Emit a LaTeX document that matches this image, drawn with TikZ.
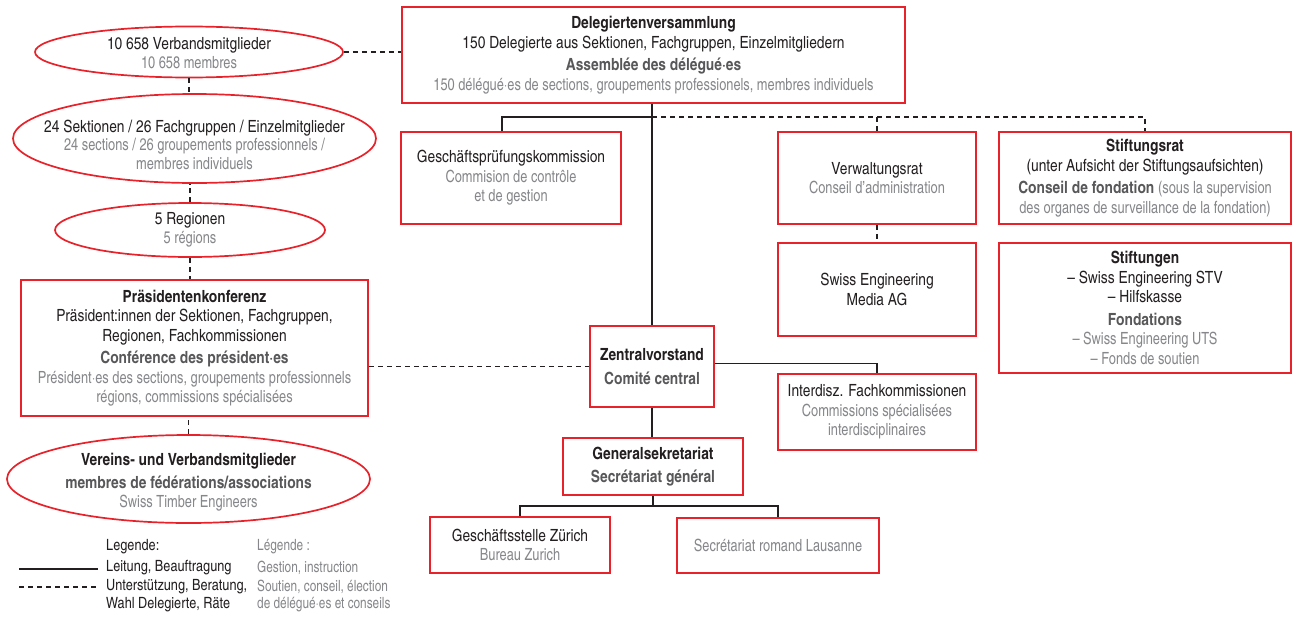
\documentclass[tikz,border=0pt]{standalone}
\usepackage{fontspec}
\setmainfont{texgyreheroscn}[Extension=.otf, UprightFont=*-regular, BoldFont=*-bold]
\newfontfamily\lightcn{texgyreheroscn}[Extension=.otf, UprightFont=*-regular, FakeStretch=0.93]
\usetikzlibrary{shapes.geometric}
\definecolor{swred}{HTML}{E8222A}
\definecolor{dark}{HTML}{231F20}
\definecolor{frbold}{HTML}{58585A}
\definecolor{frgrey}{HTML}{86878A}
\newcommand\frb[1]{{\bfseries\color{frbold}#1}}
\newcommand\frl[1]{{\lightcn\color{frgrey}#1}}
\begin{document}
\begin{tikzpicture}[x=1pt, y=-1pt]
    \tikzset{
    box/.style={
        rectangle,
        draw=swred,
        line width=1.7pt,
        align=center,
        text=dark,
        inner sep=2pt,
        font=\fontsize{16.8}{19.5}\selectfont
    },
    oval/.style={
        ellipse,
        draw=swred,
        line width=1.7pt,
        inner sep=0pt
    },
    ovaltext/.style={
        align=center,
        text=dark,
        inner sep=0pt,
        font=\fontsize{16.8}{18.5}\selectfont
    },
    legtext/.style={
        anchor=west,
        inner sep=0pt,
        text=dark,
        font=\fontsize{15.5}{19}\selectfont
    },
    link/.style={
        draw=dark, line width=1.6pt
    },
    support/.style={
        link, dash pattern=on 5pt off 4pt
    }
}
    \useasboundingbox (0,0) rectangle (1293,616);

    \node[box, minimum width=503pt, minimum height=96pt] (deleg) at (653.5,55)
        {\textbf{Delegiertenversammlung}\\150 Delegierte aus Sektionen, Fachgruppen, Einzelmitgliedern\\[3pt]
         \frb{Assemblée des délégué·es}\\\frl{150 délégué·es de sections, groupements professionels, membres individuels}};
    \node[box, minimum width=220pt, minimum height=92pt] (gpk) at (511,178)
        {Geschäftsprüfungskommission\\\frl{Commision de contrôle}\\\frl{et de gestion}};
    \node[box, minimum width=198pt, minimum height=92pt] (vr) at (877,178)
        {Verwaltungsrat\\\frl{Conseil d’administration}};
    \node[box, minimum width=292pt, minimum height=92pt] (stiftrat) at (1145,178)
        {\textbf{Stiftungsrat}\\(unter Aufsicht der Stiftungsaufsichten)\\[3pt]
         \frb{Conseil de fondation} \frl{(sous la supervision}\\\frl{des organes de surveillance de la fondation)}};
    \node[box, minimum width=198pt, minimum height=93pt] (media) at (877,289.5)
        {Swiss Engineering\\Media AG};
    \node[box, minimum width=292pt, minimum height=130pt] (stiftungen) at (1145,308)
        {\textbf{Stiftungen}\\– Swiss Engineering STV\\– Hilfskasse\\[3pt]
         \frb{Fondations}\\\frl{– Swiss Engineering UTS}\\\frl{– Fonds de soutien}};
    \node[box, minimum width=124pt, minimum height=81pt] (zv) at (652,366.5)
        {\textbf{Zentralvorstand}\\[4pt]\frb{Comité central}};
    \node[box, minimum width=198pt, minimum height=76pt] (interd) at (877,412)
        {Interdisz. Fachkommissionen\\\frl{Commissions spécialisées}\\\frl{interdisciplinaires}};
    \node[box, minimum width=180pt, minimum height=57pt] (gs) at (653,466.5)
        {\textbf{Generalsekretariat}\\[4pt]\frb{Secrétariat général}};
    \node[box, minimum width=180pt, minimum height=56pt] (zh) at (520,545)
        {Geschäftsstelle Zürich\\\frl{Bureau Zurich}};
    \node[box, minimum width=202pt, minimum height=55pt] (laus) at (778,545.5)
        {\frl{Secrétariat romand Lausanne}};

    \node[oval, minimum width=308pt, minimum height=51pt] (mitgl) at (189,52) {};
    \node[ovaltext] (mitgl text) at ([yshift=-1pt]mitgl)
        {10 658 Verbandsmitglieder\\\frl{10 658 membres}};
    \node[oval, minimum width=363pt, minimum height=89pt] (sekt) at (194.5,138.5) {};
    \node[ovaltext] (sekt text) at ([yshift=-6pt]sekt)
        {24 Sektionen / 26 Fachgruppen / Einzelmitglieder\\\frl{24 sections / 26 groupements professionnels /}\\\frl{membres individuels}};
    \node[oval, minimum width=270pt, minimum height=54pt] (reg) at (190,230) {};
    \node[ovaltext] (reg text) at (reg)
        {5 Regionen\\\frl{5 régions}};
    \node[box, minimum width=347pt, minimum height=136pt] (praes) at (194.5,348)
        {\textbf{Präsidentenkonferenz}\\Präsident:innen der Sektionen, Fachgruppen,\\Regionen, Fachkommissionen\\[3pt]
         \frb{Conférence des président·es}\\\frl{Président·es des sections, groupements professionnels}\\\frl{régions, commissions spécialisées}};
    \node[oval, minimum width=363pt, minimum height=88pt] (verein) at (188.5,479) {};
    \node[ovaltext] (verein text) at ([yshift=-3pt]verein)
        {\textbf{Vereins- und Verbandsmitglieder}\\[5pt]\frb{membres de fédérations/associations}\\\frl{Swiss Timber Engineers}};

    % Legende
    \node[legtext] (leg) at (106,547) {Legende:};
    \node[legtext] (leit) at (106,568) {Leitung, Beauftragung};
    \node[legtext] (unter) at (106,587) {Unterstützung, Beratung,};
    \node[legtext] (wahl) at (106,605) {Wahl Delegierte, Räte};
    \node[legtext, text=frgrey] (legfr) at (257,547) {\lightcn Légende :};
    \node[legtext, text=frgrey] (gest) at (257,568) {\lightcn Gestion, instruction};
    \node[legtext, text=frgrey] (sout) at (257,587) {\lightcn Soutien, conseil, élection};
    \node[legtext, text=frgrey] (delegfr) at (257,605) {\lightcn de délégué·es et conseils};
    \coordinate (lsolid) at (19,569);
    \coordinate (lsolidend) at (98,569);
    \coordinate (ldash) at (19,587);
    \coordinate (ldashend) at (98,587);
    \draw[link] (lsolid) -- (lsolidend);
    \draw[support] (ldash) -- (ldashend);

    % Verbindungen
    \coordinate (jtop) at (652,117);
    \coordinate (jbot) at (650,506);
    \draw[link] (zv.north |- deleg.south) -- (zv.north);
    \draw[link] (jtop) -| ([xshift=-9pt]gpk.north);
    \draw[support] (jtop) -| (stiftrat.north);
    \draw[support] (vr.north |- jtop) -- (vr.north);
    \draw[support] (vr.south) -- (media.north);
    \draw[link] ([yshift=3pt]zv.east) -| (interd.north);
    \draw[link] (zv.south) -- (zv.south |- gs.north);
    \draw[link] (gs.south) -- (gs.south |- jbot);
    \draw[link] (zh.north) -- (zh.north |- jbot) -- (laus.north |- jbot) -- (laus.north);

    \draw[support] (mitgl.east) -- (mitgl.east -| deleg.west);
    \draw[support] (mitgl.south) -- (mitgl.south |- sekt.north);
    \draw[support] (reg.north) -- (reg.north |- sekt.south);
    \draw[support] (reg.south) -- (reg.south |- praes.north);
    \draw[support] (verein.north) -- (verein.north |- praes.south);
    \draw[support] (praes.east |- zv.west) -- (zv.west);
\end{tikzpicture}
\end{document}
